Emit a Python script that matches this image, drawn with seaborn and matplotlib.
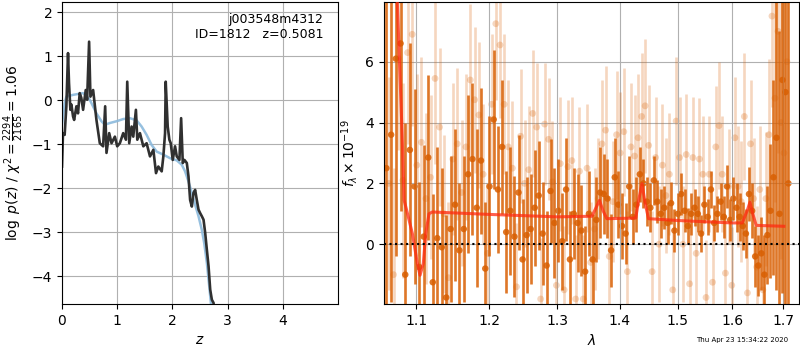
import numpy as np
import pandas as pd
import matplotlib
matplotlib.use("Agg")
import matplotlib.pyplot as plt
import seaborn as sns
from matplotlib.ticker import NullLocator

# --- p(z) panel ---
z_pz = [0.0, 0.018, 0.048, 0.079, 0.109, 0.127, 0.152, 0.17, 0.2, 0.22, 0.261, 0.29,
        0.321, 0.35, 0.382, 0.43, 0.455, 0.491, 0.515, 0.564, 0.624, 0.685, 0.745,
        0.782, 0.806, 0.855, 0.897, 0.958, 1.0, 1.048, 1.109, 1.158, 1.182, 1.218,
        1.261, 1.291, 1.339, 1.364, 1.412, 1.473, 1.533, 1.594, 1.655, 1.703, 1.745,
        1.806, 1.836, 1.867, 1.879, 1.915, 1.945, 1.97, 2.006, 2.048, 2.079, 2.127,
        2.158, 2.188, 2.218, 2.261, 2.291, 2.321, 2.352, 2.382, 2.412, 2.442, 2.473,
        2.503, 2.533, 2.564, 2.594, 2.624, 2.655, 2.685, 2.715, 2.745, 2.76]
logp = [-1.51, -0.75, -0.79, -0.14, 1.07, 0.39, -0.22, -0.1, -0.37, -0.45, -0.14, -0.3,
        0.16, 0.05, -0.22, 0.23, 0.01, 1.33, 0.08, 0.23, -0.45, -0.98, -1.05,
        -0.14, -1.2, -0.75, -0.98, -0.83, -1.05, -0.98, -0.75, -0.9, 0.42, -0.98,
        -0.6, -0.83, -0.22, -0.9, -0.75, -1.05, -0.98, -1.28, -1.13, -1.66, -1.51,
        -1.62, -1.28, -0.75, 0.42, -0.6, -0.9, -0.98, -1.36, -1.05, -1.28, -1.36,
        -0.41, -1.43, -1.36, -1.43, -1.73, -2.27, -2.42, -2.11, -2.04, -2.27, -2.49,
        -2.57, -2.64, -2.72, -3.02, -3.4, -3.78, -4.31, -4.54, -4.61, -4.8]

z_smooth = [0.0, 0.018, 0.048, 0.079, 0.2, 0.291, 0.382, 0.442, 0.503, 0.624, 0.715,
            0.776, 0.867, 0.988, 1.109, 1.23, 1.352, 1.442, 1.533, 1.624, 1.715, 1.836,
            1.958, 2.079, 2.17, 2.23, 2.291, 2.352, 2.412, 2.473, 2.533, 2.576, 2.624,
            2.667, 2.697, 2.72]
logp_smooth = [-0.55, -0.37, -0.07, 0.08, 0.12, 0.14, 0.16, 0.1, 0.01, -0.3, -0.48,
               -0.56, -0.52, -0.48, -0.43, -0.41, -0.46, -0.6, -0.79, -1.02, -1.17, -1.24,
               -1.32, -1.37, -1.47, -1.62, -1.85, -2.11, -2.38, -2.64, -2.95, -3.25, -3.7,
               -4.23, -4.61, -4.9]

# --- spectrum panel ---
dark_lam = [1.062, 1.068, 1.074, 1.080, 1.086, 1.092, 1.098, 1.104, 1.110, 1.116,
            1.122, 1.128, 1.134, 1.140, 1.146, 1.152, 1.158, 1.164, 1.170, 1.176,
            1.182, 1.188, 1.194, 1.200, 1.206, 1.212, 1.218, 1.224, 1.230, 1.236,
            1.242, 1.248, 1.254, 1.260, 1.266, 1.272, 1.278, 1.284, 1.290,
            1.296, 1.302, 1.308, 1.314, 1.320, 1.326, 1.332, 1.338, 1.344, 1.350,
            1.356, 1.362, 1.368, 1.374, 1.380, 1.386, 1.392, 1.398, 1.404, 1.410,
            1.416, 1.422, 1.428, 1.434, 1.440, 1.446, 1.452, 1.458, 1.464, 1.470,
            1.476, 1.482, 1.488, 1.494, 1.500, 1.506, 1.512, 1.518, 1.524, 1.530,
            1.536, 1.542, 1.548, 1.554, 1.560, 1.566, 1.572, 1.578, 1.584, 1.590, 1.596,
            1.602, 1.608, 1.614, 1.620, 1.626, 1.632, 1.638, 1.644, 1.650, 1.656,
            1.662, 1.668, 1.674, 1.680, 1.686, 1.692, 1.698, 1.704, 1.710]
dark_flux = [2.5, 3.6, 6.1, 6.6, -1.0, 3.1, 1.9, -0.75, 0.25, 2.85,
             -1.25, 0.2, -0.1, -1.75, 0.5, 1.3, -0.2, 0.5, 2.3, 2.8,
             1.2, 2.75, -0.8, 1.9, 4.1, 1.8, 3.2, 0.4, 1.1, 0.25,
             1.7, -0.5, 0.3, 0.5, 1.2, 1.6, 0.35, -0.7, 1.75,
             0.7, 1.1, 0.1, 1.8, -0.5, 1.0, 0.7, 0.45, -0.9, 1.0,
             -0.5, 0.8, 1.7, 1.65, 1.5, -0.2, 2.2, 1.3, 0.6, 0.35,
             1.9, 0.9, 1.3, 2.3, 2.0, 1.4, 1.2, 2.1, 1.4, 1.0,
             1.2, 0.7, 1.35, 0.45, 1.0, 1.65, 1.1, 0.6, 1.0, 1.2,
             1.0, 0.35, 1.3, 0.9, 1.8, 0.7, 1.0, 1.4, 0.9, 1.9, 0.8,
             1.5, 1.2, 0.9, 0.6, 0.35, 1.65, 1.1, -0.4, -0.7, -0.3,
             -1.0, 0.3, 1.1, 2.2, 3.5, 1.0, 5.4, 5.0, 2.0]
dark_err = [6.0, 5.5, 6.5, 5.5, 5.0, 3.5, 3.2, 2.8, 3.0, 2.7,
            2.9, 3.0, 2.6, 2.7, 2.4, 2.5, 2.2, 2.4, 2.6, 2.5,
            2.6, 2.4, 2.2, 2.3, 2.3, 2.1, 2.2, 2.0, 2.1, 2.0,
            1.9, 2.0, 1.9, 1.8, 1.9, 1.8, 1.7, 1.8, 1.7,
            1.8, 1.7, 1.6, 1.7, 1.6, 1.5, 1.6, 1.5, 1.5, 1.4,
            1.5, 1.4, 1.5, 1.3, 1.3, 1.2, 1.3, 1.1, 1.1, 1.0,
            1.0, 0.9, 0.9, 0.9, 0.8, 0.8, 0.8, 0.8, 0.7, 0.8,
            0.7, 0.7, 0.7, 0.7, 0.7, 0.7, 0.7, 0.6, 0.7, 0.6,
            0.6, 0.6, 0.6, 0.6, 0.6, 0.6, 0.6, 0.6, 0.7, 0.7, 0.7,
            0.7, 0.8, 0.8, 0.8, 0.8, 0.9, 0.9, 1.0, 1.0, 1.2,
            1.3, 1.6, 2.2, 3.2, 5.0, 6.0, 7.0, 8.0, 9.0]

light_lam = [1.065, 1.071, 1.077, 1.083, 1.089, 1.095, 1.101, 1.107, 1.113, 1.119,
             1.125, 1.131, 1.137, 1.143, 1.149, 1.155, 1.161, 1.167, 1.173, 1.179,
             1.185, 1.191, 1.197, 1.203, 1.209, 1.215, 1.221, 1.227, 1.233, 1.239,
             1.245, 1.251, 1.257, 1.263, 1.269, 1.275, 1.281, 1.287, 1.293,
             1.299, 1.305, 1.311, 1.317, 1.323, 1.329, 1.335, 1.341, 1.347, 1.353,
             1.359, 1.365, 1.371, 1.377, 1.383, 1.389, 1.395, 1.401, 1.407, 1.413,
             1.419, 1.425, 1.431, 1.437, 1.443, 1.449, 1.455, 1.461, 1.467, 1.473,
             1.479, 1.485, 1.491, 1.497, 1.503, 1.509, 1.515, 1.521, 1.527, 1.533,
             1.539, 1.545, 1.551, 1.557, 1.563, 1.569, 1.575, 1.581, 1.587, 1.593, 1.599,
             1.605, 1.611, 1.617, 1.623, 1.629, 1.635, 1.641, 1.647, 1.653, 1.659,
             1.665, 1.671, 1.677, 1.683, 1.689, 1.695, 1.701, 1.707]
light_flux = [2.0, -1.0, 6.1, 2.1, 6.3, 6.9, 2.6, 3.35, 1.5, 2.2,
              5.45, 3.85, 1.0, -1.1, 2.8, 3.3, 1.7, 3.2, 5.4, 4.75,
              4.25, 2.3, -0.3, 4.6, 7.25, 6.55, 4.6, 3.2, 2.5, -1.4,
              3.55, 2.0, 2.45, 4.3, 3.85, -1.8, 3.95, 3.45, 2.05,
              -1.35, 2.65, -1.5, 2.55, 2.75, -1.8, 2.4, -1.8, 2.5, -0.6,
              0.5, 1.5, 3.3, 3.75, -0.4, 1.4, 3.6, 3.0, 3.7, -0.9,
              3.2, 2.9, 3.5, 4.2, 4.55, 3.25, -0.9, 2.85, 0.0, 2.6,
              1.6, 2.3, -1.5, 4.05, 2.85, 0.0, 2.95, -1.3, 2.85, -0.3,
              2.8, 2.3, -1.75, 2.3, -1.25, 3.2, 3.9, 2.3, -0.95, 1.9, -1.35,
              3.5, 1.9, 1.4, 4.2, -1.6, 3.3, 1.5, -0.75, 1.8, -1.5,
              1.5, 3.6, 7.5, 4.8, 7.0, 4.0, 3.0, 6.0]
light_err = [3.5, 3.5, 3.0, 3.2, 3.0, 3.0, 3.0, 2.8, 2.8, 2.7,
             2.8, 2.6, 2.6, 2.5, 2.5, 2.5, 2.4, 2.4, 2.5, 2.4,
             2.4, 2.3, 2.3, 2.3, 2.5, 2.4, 2.3, 2.2, 2.2, 2.1,
             2.2, 2.1, 2.1, 2.1, 2.1, 2.0, 2.0, 2.0, 2.0,
             2.2, 2.2, 2.1, 2.2, 2.1, 2.1, 2.1, 2.1, 2.1, 2.0,
             2.0, 2.0, 2.1, 2.1, 2.0, 2.0, 2.1, 2.0, 2.1, 2.0,
             2.1, 2.0, 2.1, 2.1, 2.2, 2.0, 2.0, 2.0, 1.9, 2.0,
             1.9, 2.0, 1.9, 2.1, 2.0, 1.9, 2.0, 1.9, 2.0, 1.9,
             2.0, 1.9, 1.9, 1.9, 1.9, 2.0, 2.1, 1.9, 1.9, 1.9, 1.9,
             2.0, 2.0, 2.0, 2.1, 2.0, 2.1, 2.0, 2.0, 2.1, 2.1,
             2.2, 2.5, 3.0, 3.4, 4.0, 4.5, 5.0, 6.0]

model_lam = [1.060, 1.0755, 1.082, 1.0845, 1.088, 1.0952, 1.1017, 1.1052, 1.1095,
             1.1127, 1.117, 1.1214, 1.20, 1.30, 1.355, 1.3618, 1.367, 1.3726, 1.379,
             1.427, 1.4319, 1.4377, 1.4432, 1.4488, 1.50, 1.60, 1.619, 1.6286,
             1.6338, 1.6393, 1.646, 1.7008]
model_flux = [14.0, 8.2, 3.6, 1.45, 1.1, 0.35, -0.63, -1.02, -0.63,
              0.35, 1.0, 1.06, 0.98, 0.9, 0.92, 1.22, 1.44, 1.11, 0.84,
              0.86, 1.44, 1.99, 1.33, 0.84, 0.78, 0.70, 0.70, 1.11,
              1.38, 1.0, 0.62, 0.59]

lam_ticks = [1.1, 1.2, 1.3, 1.4, 1.5, 1.6, 1.7]

fig = plt.figure(figsize=(8, 3.5), dpi=100)
ax1 = fig.add_axes([0.0775, 0.131, 0.345, 0.863])
ax2 = fig.add_axes([0.48, 0.131, 0.519, 0.863])

# p(z)
sns.lineplot(x=z_smooth, y=logp_smooth, ax=ax1, color="#8bb9dc", lw=1.8, alpha=0.9)
sns.lineplot(x=z_pz, y=logp, ax=ax1, color="#303030", lw=1.9)
ax1.set_xlim(0, 5)
ax1.set_ylim(-4.64, 2.23)
ax1.set_xticks([0, 1, 2, 3, 4])
ax1.set_yticks([-4, -3, -2, -1, 0, 1, 2])
ax1.grid(True)
ax1.set_xlabel("$z$")
ax1.set_ylabel(r"$\log\ p(z)$ / $\chi^2=\frac{2294}{2165}=1.06$")
ax1.text(0.947, 0.965, "j003548m4312\nID=1812   z=0.5081", transform=ax1.transAxes,
         ha="right", va="top", fontsize=9, linespacing=1.2)

# spectrum
orange = "#d95f02"
ax2.errorbar(light_lam, light_flux, yerr=light_err, fmt="none", ecolor=orange,
             alpha=0.25, elinewidth=1.9)
sns.scatterplot(x=light_lam, y=light_flux, ax=ax2, color=orange, alpha=0.25,
                s=24, edgecolor="none")
ax2.errorbar(dark_lam, dark_flux, yerr=dark_err, fmt="none", ecolor=orange,
             alpha=0.85, elinewidth=1.9)
sns.scatterplot(x=dark_lam, y=dark_flux, ax=ax2, color=orange, alpha=0.85,
                s=22, edgecolor="none")
sns.lineplot(x=model_lam, y=model_flux, ax=ax2, color="#ff2a10", lw=2.2, alpha=0.75,
             zorder=5)
ax2.axhline(0, color="k", ls=":", lw=1.5, zorder=6)

ax2.set_xscale("log")
ax2.set_xlim(1.059, 1.732)
ax2.set_ylim(-1.97, 7.96)
ax2.set_xticks(lam_ticks)
ax2.set_xticklabels([f"{t:.1f}" for t in lam_ticks])
ax2.xaxis.set_minor_locator(NullLocator())
ax2.set_yticks([0, 2, 4, 6])
ax2.grid(True)
ax2.set_xlabel(r"$\lambda$")
ax2.set_ylabel(r"$f_\lambda\times10^{-19}$")

fig.text(0.985, 0.028, "Thu Apr 23 15:34:22 2020", ha="right", va="center", fontsize=5)

fig.savefig("out.png", dpi=100)
